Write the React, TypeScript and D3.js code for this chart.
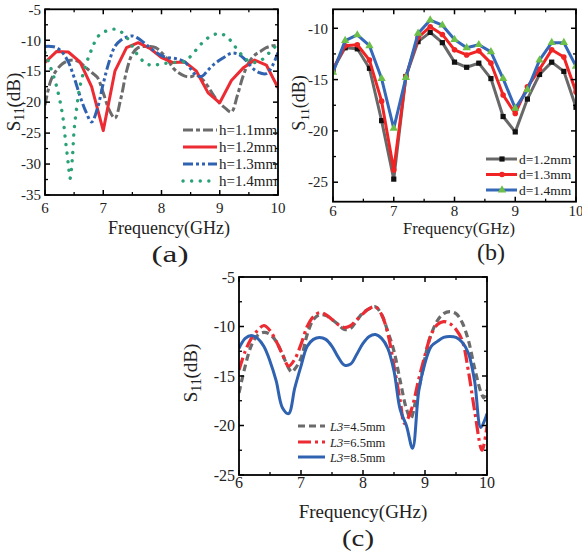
import React from "react";
import * as d3 from "d3";

const FONT = "'Liberation Serif', 'Times New Roman', serif";

// ---------- Panel (a): substrate thickness h ----------
const freqA_h11 = [6.0, 6.1, 6.2, 6.3, 6.4, 6.5, 6.6, 6.7, 6.8, 6.9, 7.0, 7.1, 7.2, 7.3, 7.4, 7.5, 7.6, 7.7, 7.8, 7.9, 8.0, 8.1, 8.2, 8.3, 8.4, 8.5, 8.6, 8.7, 8.8, 8.9, 9.0, 9.1, 9.2, 9.3, 9.4, 9.5, 9.6, 9.7, 9.8, 9.9, 10.0];
const s11A_h11 = [-20.5, -16.5, -14.8, -13.8, -13.3, -13.2, -13.6, -14.4, -15.2, -16.0, -18.5, -21.2, -22.6, -19.5, -15.0, -12.2, -11.2, -11.0, -11.0, -11.2, -12.0, -13.0, -14.5, -15.3, -15.8, -15.9, -15.6, -16.3, -17.5, -19.0, -20.2, -21.0, -21.6, -19.0, -15.8, -13.6, -12.4, -11.8, -11.2, -10.9, -10.8];

const freqA_h12 = [6.0, 6.2, 6.4, 6.6, 6.8, 7.0, 7.2, 7.4, 7.6, 7.8, 8.0, 8.2, 8.4, 8.6, 8.8, 9.0, 9.2, 9.4, 9.6, 9.8, 10.0];
const s11A_h12 = [-13.6, -11.8, -11.9, -13.5, -17.5, -24.6, -15.0, -11.2, -10.4, -11.3, -12.8, -13.6, -13.5, -15.0, -18.5, -20.1, -16.5, -14.5, -13.2, -14.0, -17.7];

const freqA_h13 = [6.0, 6.1, 6.2, 6.3, 6.4, 6.5, 6.6, 6.7, 6.8, 6.9, 7.0, 7.1, 7.2, 7.3, 7.4, 7.5, 7.6, 7.7, 7.8, 7.9, 8.0, 8.1, 8.2, 8.3, 8.4, 8.5, 8.6, 8.7, 8.8, 8.9, 9.0, 9.1, 9.2, 9.3, 9.4, 9.5, 9.6, 9.7, 9.8, 9.9, 10.0];
const s11A_h13 = [-11.0, -11.0, -11.2, -12.0, -13.5, -16.0, -19.0, -21.5, -23.2, -21.0, -17.0, -13.5, -11.0, -10.0, -9.5, -9.3, -9.7, -10.4, -11.2, -11.9, -12.5, -12.8, -12.9, -13.1, -13.5, -14.6, -15.7, -15.8, -14.8, -13.9, -13.2, -12.6, -12.1, -12.2, -12.8, -13.8, -14.8, -15.3, -15.4, -14.2, -12.0];

const freqA_h14 = [6.0, 6.1, 6.2, 6.3, 6.35, 6.4, 6.43, 6.47, 6.5, 6.55, 6.6, 6.7, 6.8, 6.9, 7.0, 7.1, 7.2, 7.3, 7.4, 7.5, 7.6, 7.7, 7.8, 7.9, 8.0, 8.2, 8.4, 8.5, 8.6, 8.7, 8.8, 8.9, 9.0, 9.1, 9.2, 9.3, 9.4, 9.5, 9.6, 9.7, 9.8, 9.9, 10.0];
const s11A_h14 = [-12.0, -14.5, -17.5, -22.0, -26.0, -30.0, -32.3, -29.0, -24.5, -20.5, -17.5, -14.0, -11.5, -9.5, -8.7, -8.4, -8.2, -8.6, -9.5, -11.0, -12.5, -13.5, -14.0, -14.0, -13.8, -13.6, -13.4, -12.6, -11.5, -10.4, -9.6, -9.1, -8.9, -9.3, -10.2, -11.5, -12.6, -13.4, -13.6, -13.3, -12.5, -11.5, -10.6];

const labelsA = ["h=1.1mm", "h=1.2mm", "h=1.3mm", "h=1.4mm"];
const yTicksA = [-35, -30, -25, -20, -15, -10, -5];

// ---------- Panel (b): parameter d ----------
const freqB = [6.0, 6.2, 6.4, 6.6, 6.8, 7.0, 7.2, 7.4, 7.6, 7.8, 8.0, 8.2, 8.4, 8.6, 8.8, 9.0, 9.2, 9.4, 9.6, 9.8, 10.0];
const s11B_d12 = [-14.0, -11.9, -12.0, -13.9, -19.0, -24.7, -14.7, -11.3, -10.4, -11.4, -13.3, -13.8, -13.4, -14.9, -18.6, -20.1, -16.9, -14.5, -13.3, -14.2, -17.7];
const s11B_d13 = [-14.0, -11.7, -11.6, -13.1, -17.1, -23.8, -14.7, -10.9, -9.85, -10.6, -12.1, -12.6, -12.2, -13.4, -16.5, -18.3, -15.7, -14.0, -12.1, -12.8, -16.2];
const s11B_d14 = [-14.3, -11.2, -10.65, -11.7, -14.9, -19.75, -14.8, -10.5, -9.2, -9.7, -11.1, -11.9, -11.6, -12.3, -14.9, -17.8, -16.0, -13.1, -11.4, -11.4, -13.7];
const labelsB = ["d=1.2mm", "d=1.3mm", "d=1.4mm"];
const yTicksB = [-25, -20, -15, -10];

// ---------- Panel (c): length L3 ----------
const freqC_45 = [6.0, 6.1, 6.2, 6.3, 6.4, 6.5, 6.6, 6.7, 6.8, 6.85, 6.9, 7.0, 7.1, 7.2, 7.3, 7.4, 7.5, 7.6, 7.7, 7.8, 7.9, 8.0, 8.1, 8.2, 8.3, 8.4, 8.5, 8.6, 8.7, 8.77, 8.85, 8.92, 9.03, 9.1, 9.2, 9.3, 9.4, 9.5, 9.6, 9.7, 9.8, 9.9, 9.95, 10.0];
const s11C_45 = [-16.7, -14.0, -11.9, -10.9, -10.6, -10.8, -11.5, -12.8, -14.2, -14.6, -14.3, -13.2, -10.8, -9.3, -8.8, -8.9, -9.3, -9.8, -10.3, -10.2, -9.4, -8.6, -8.2, -8.0, -8.8, -10.5, -12.5, -15.5, -18.3, -19.3, -17.5, -15.7, -12.3, -10.8, -9.4, -8.7, -8.5, -8.7, -9.6, -11.4, -14.2, -16.6, -17.2, -16.4];

const freqC_65 = [6.0, 6.1, 6.2, 6.3, 6.4, 6.5, 6.6, 6.7, 6.8, 6.9, 7.0, 7.1, 7.2, 7.3, 7.4, 7.5, 7.6, 7.7, 7.8, 7.9, 8.0, 8.1, 8.2, 8.3, 8.4, 8.5, 8.6, 8.67, 8.78, 8.9, 9.0, 9.1, 9.2, 9.3, 9.4, 9.5, 9.6, 9.7, 9.8, 9.92, 10.0];
const s11C_65 = [-14.4, -12.5, -11.2, -10.4, -9.9, -10.4, -11.5, -12.8, -14.0, -13.3, -11.8, -10.0, -9.0, -8.6, -8.8, -9.3, -9.8, -10.1, -9.9, -9.3, -8.7, -8.2, -8.0, -8.8, -10.7, -14.0, -17.5, -19.8, -18.4, -15.3, -12.9, -10.8, -9.8, -9.5, -9.7, -10.3, -11.4, -14.5, -18.5, -22.5, -20.1];

const freqC_85 = [6.0, 6.1, 6.2, 6.3, 6.4, 6.5, 6.6, 6.7, 6.8, 6.9, 7.0, 7.1, 7.2, 7.3, 7.4, 7.5, 7.6, 7.7, 7.8, 7.9, 8.0, 8.1, 8.2, 8.3, 8.4, 8.5, 8.6, 8.7, 8.8, 8.9, 9.0, 9.1, 9.2, 9.3, 9.4, 9.5, 9.6, 9.7, 9.8, 9.9, 10.0];
const s11C_85 = [-12.2, -11.2, -10.9, -11.2, -12.0, -13.5, -15.5, -18.2, -18.8, -16.2, -14.0, -12.0, -11.3, -11.1, -11.3, -12.0, -13.1, -13.9, -13.8, -12.8, -11.7, -11.0, -10.8, -11.2, -12.2, -14.5, -18.4, -20.0, -22.3, -16.5, -13.7, -12.0, -11.5, -11.1, -11.0, -11.1, -11.6, -12.7, -15.5, -20.2, -18.8];
const labelsC = ["4.5mm", "6.5mm", "8.5mm"];
const yTicksC = [-25, -20, -15, -10, -5];

const xTicks = [6, 7, 8, 9, 10];
const xMinor = [6.5, 7.5, 8.5, 9.5];

type Curve = {
  x: number[];
  y: number[];
  color: string;
  width: number;
  dash?: string;
  cap?: "butt" | "round";
  curve: d3.CurveFactory;
  marker?: "square" | "circle" | "triangle";
  markerColor?: string;
};

type PanelProps = {
  id: string;
  left: number;
  right: number;
  top: number;
  bottom: number;
  yDomain: [number, number];
  yTicks: number[];
  tickFont: number;
  titleFont: number;
  xTitleY: number;
  xTitleX: number;
  yTitleX: number;
  yTitleY: number;
  yTitleFont: number;
  tickLabelY: number;
  yLabelRight: number;
  tag: string;
  tagX: number;
  tagY: number;
  tagLen: number;
  curves: Curve[];
};

function Marker({ kind, cx, cy, color }: { kind: string; cx: number; cy: number; color: string }) {
  if (kind === "square") return <rect x={cx - 2.6} y={cy - 2.6} width={5.2} height={5.2} fill={color} />;
  if (kind === "circle") return <circle cx={cx} cy={cy} r={2.8} fill={color} />;
  const tri = d3.symbol(d3.symbolTriangle, 30)();
  return <path d={tri || ""} transform={`translate(${cx},${cy})`} fill={color} />;
}

function Panel(p: PanelProps) {
  const xs = d3.scaleLinear().domain([6, 10]).range([p.left, p.right]);
  const ys = d3.scaleLinear().domain(p.yDomain).range([p.bottom, p.top]);
  const yMinor = p.yTicks.slice(0, -1).map((v, i) => (v + p.yTicks[i + 1]) / 2);
  const yExtra: number[] = [];
  const step = p.yTicks[1] - p.yTicks[0];
  if (p.yTicks[p.yTicks.length - 1] + step / 2 <= p.yDomain[1]) yExtra.push(p.yTicks[p.yTicks.length - 1] + step / 2);
  if (p.yTicks[0] - step / 2 >= p.yDomain[0]) yExtra.push(p.yTicks[0] - step / 2);
  const allYMinor = yMinor.concat(yExtra);
  const maj = 5;
  const mnr = 3;

  return (
    <g>
      <defs>
        <clipPath id={`clip-${p.id}`}>
          <rect x={p.left} y={p.top} width={p.right - p.left} height={p.bottom - p.top} />
        </clipPath>
      </defs>
      <g clipPath={`url(#clip-${p.id})`}>
        {p.curves.map((c, i) => {
          const pts = c.x.map((f, k) => [f, c.y[k]] as [number, number]);
          const line = d3
            .line<[number, number]>()
            .x((d) => xs(d[0]))
            .y((d) => ys(d[1]))
            .curve(c.curve);
          return (
            <g key={i}>
              <path
                d={line(pts) || ""}
                fill="none"
                stroke={c.color}
                strokeWidth={c.width}
                strokeDasharray={c.dash}
                strokeLinecap={c.cap || "butt"}
                strokeLinejoin="round"
              />
              {c.marker &&
                pts.map((d, k) => (
                  <Marker key={k} kind={c.marker!} cx={xs(d[0])} cy={ys(d[1])} color={c.markerColor || c.color} />
                ))}
            </g>
          );
        })}
      </g>
      {/* frame */}
      <rect x={p.left} y={p.top} width={p.right - p.left} height={p.bottom - p.top} fill="none" stroke="#000" strokeWidth={1.8} />
      {/* x ticks, bottom and top, pointing inward */}
      {xTicks.map((v) => (
        <g key={`xt${v}`}>
          <line x1={xs(v)} x2={xs(v)} y1={p.bottom} y2={p.bottom - maj} stroke="#000" strokeWidth={1.5} />
          <line x1={xs(v)} x2={xs(v)} y1={p.top} y2={p.top + maj} stroke="#000" strokeWidth={1.5} />
          <text x={xs(v)} y={p.tickLabelY} textAnchor="middle" fontFamily={FONT} fontSize={p.tickFont} fill="#222">
            {v}
          </text>
        </g>
      ))}
      {xMinor.map((v) => (
        <g key={`xm${v}`}>
          <line x1={xs(v)} x2={xs(v)} y1={p.bottom} y2={p.bottom - mnr} stroke="#000" strokeWidth={1.3} />
          <line x1={xs(v)} x2={xs(v)} y1={p.top} y2={p.top + mnr} stroke="#000" strokeWidth={1.3} />
        </g>
      ))}
      {p.yTicks.map((v) => (
        <g key={`yt${v}`}>
          <line x1={p.left} x2={p.left + maj} y1={ys(v)} y2={ys(v)} stroke="#000" strokeWidth={1.5} />
          <line x1={p.right} x2={p.right - maj} y1={ys(v)} y2={ys(v)} stroke="#000" strokeWidth={1.5} />
          <text x={p.yLabelRight} y={ys(v)} dy="0.35em" textAnchor="end" fontFamily={FONT} fontSize={p.tickFont} fill="#222">
            {v}
          </text>
        </g>
      ))}
      {allYMinor.map((v) => (
        <g key={`ym${v}`}>
          <line x1={p.left} x2={p.left + mnr} y1={ys(v)} y2={ys(v)} stroke="#000" strokeWidth={1.3} />
          <line x1={p.right} x2={p.right - mnr} y1={ys(v)} y2={ys(v)} stroke="#000" strokeWidth={1.3} />
        </g>
      ))}
      <text x={p.xTitleX} y={p.xTitleY} textAnchor="middle" fontFamily={FONT} fontSize={p.titleFont} fill="#222">
        Frequency(GHz)
      </text>
      <text
        transform={`translate(${p.yTitleX},${p.yTitleY}) rotate(-90)`}
        textAnchor="middle"
        fontFamily={FONT}
        fontSize={p.yTitleFont}
        fill="#222"
      >
        S
        <tspan fontSize={p.yTitleFont * 0.72} dy={4}>
          11
        </tspan>
        <tspan dy={-4}>(dB)</tspan>
      </text>
      <text
        x={p.tagX}
        y={p.tagY}
        textAnchor="middle"
        fontFamily={FONT}
        fontSize={23}
        fill="#222"
        textLength={p.tagLen}
        lengthAdjust="spacingAndGlyphs"
      >
        {p.tag}
      </text>
    </g>
  );
}

const GRAY = "#6b6b6b";
const RED = "#ec2b33";
const BLUE = "#2f62b0";
const GREEN = "#2aa276";

export default function App() {
  const curvesA: Curve[] = [
    { x: freqA_h11, y: s11A_h11, color: GRAY, width: 3, dash: "10,3,4,3", curve: d3.curveCatmullRom },
    { x: freqA_h12, y: s11A_h12, color: RED, width: 3, curve: d3.curveLinear },
    { x: freqA_h13, y: s11A_h13, color: BLUE, width: 3, dash: "10,3,3,3,3,3", curve: d3.curveCatmullRom },
    { x: freqA_h14, y: s11A_h14, color: GREEN, width: 3.4, dash: "0.1,8.5", cap: "round", curve: d3.curveCatmullRom },
  ];
  const curvesB: Curve[] = [
    { x: freqB, y: s11B_d12, color: "#686868", width: 3, curve: d3.curveLinear, marker: "square", markerColor: "#111" },
    { x: freqB, y: s11B_d13, color: "#f02424", width: 3, curve: d3.curveLinear, marker: "circle", markerColor: "#f02424" },
    { x: freqB, y: s11B_d14, color: "#3568b8", width: 3, curve: d3.curveLinear, marker: "triangle", markerColor: "#6cc04a" },
  ];
  const curvesC: Curve[] = [
    { x: freqC_45, y: s11C_45, color: GRAY, width: 3.2, dash: "7,4", curve: d3.curveCatmullRom },
    { x: freqC_65, y: s11C_65, color: RED, width: 3.2, dash: "13,4,3,4", curve: d3.curveCatmullRom },
    { x: freqC_85, y: s11C_85, color: BLUE, width: 3, curve: d3.curveCatmullRom },
  ];

  const legA = [
    { dash: "10,3,4,3", color: GRAY, cap: "butt", w: 3 },
    { dash: undefined, color: RED, cap: "butt", w: 3 },
    { dash: "10,3,3,3,3,3", color: BLUE, cap: "butt", w: 3 },
    { dash: "0.1,8.5", color: GREEN, cap: "round", w: 3.4 },
  ];
  const legARows = [130, 147, 164, 181];
  const legBRows = [159, 174.5, 190];
  const legBMarkers = [
    { kind: "square", color: "#111", line: "#686868" },
    { kind: "circle", color: "#f02424", line: "#f02424" },
    { kind: "triangle", color: "#6cc04a", line: "#3568b8" },
  ];
  const legCRows = [426, 442, 457];
  const legC = [
    { dash: "7,4", color: GRAY },
    { dash: "13,4,3,4", color: RED },
    { dash: undefined, color: BLUE },
  ];

  return (
    <svg width={582} height={554} style={{ position: "absolute", left: 0, top: 0, background: "#fff" }}>
      <rect width={582} height={554} fill="#fff" />
      <Panel
        id="a"
        left={45}
        right={278}
        top={9.3}
        bottom={195}
        yDomain={[-35, -5]}
        yTicks={yTicksA}
        tickFont={15}
        titleFont={18}
        xTitleX={169}
        xTitleY={234}
        yTitleX={20}
        yTitleY={102}
        yTitleFont={19}
        tickLabelY={213}
        yLabelRight={41}
        tag="(a)"
        tagX={170}
        tagY={262}
        tagLen={37}
        curves={curvesA}
      />
      <Panel
        id="b"
        left={333}
        right={576}
        top={9.3}
        bottom={201.7}
        yDomain={[-26.9, -8.15]}
        yTicks={yTicksB}
        tickFont={15}
        titleFont={16.5}
        xTitleX={459}
        xTitleY={234}
        yTitleX={305}
        yTitleY={103}
        yTitleFont={18}
        tickLabelY={216}
        yLabelRight={328}
        tag="(b)"
        tagX={491}
        tagY={260}
        tagLen={28}
        curves={curvesB}
      />
      <Panel
        id="c"
        left={239}
        right={487}
        top={277}
        bottom={475}
        yDomain={[-25, -5]}
        yTicks={yTicksC}
        tickFont={16}
        titleFont={19}
        xTitleX={363}
        xTitleY={518}
        yTitleX={197}
        yTitleY={373}
        yTitleFont={19}
        tickLabelY={488}
        yLabelRight={235}
        tag="(c)"
        tagX={358}
        tagY={546}
        tagLen={32}
        curves={curvesC}
      />

      {/* legend (a) */}
      {labelsA.map((t, i) => (
        <g key={t}>
          <line x1={183} x2={217} y1={legARows[i]} y2={legARows[i]} stroke={legA[i].color} strokeWidth={legA[i].w} strokeDasharray={legA[i].dash} strokeLinecap={legA[i].cap as any} />
          <text x={219} y={legARows[i] + 5} fontFamily={FONT} fontSize={15} fill="#222">
            {t}
          </text>
        </g>
      ))}

      {/* legend (b) */}
      {labelsB.map((t, i) => (
        <g key={t}>
          <line x1={486} x2={517} y1={legBRows[i]} y2={legBRows[i]} stroke={legBMarkers[i].line} strokeWidth={3} />
          <Marker kind={legBMarkers[i].kind} cx={502} cy={legBRows[i]} color={legBMarkers[i].color} />
          <text x={519} y={legBRows[i] + 4.5} fontFamily={FONT} fontSize={13.5} fill="#222">
            {t}
          </text>
        </g>
      ))}

      {/* legend (c) */}
      {labelsC.map((t, i) => (
        <g key={t}>
          <line x1={298} x2={325} y1={legCRows[i]} y2={legCRows[i]} stroke={legC[i].color} strokeWidth={3} strokeDasharray={legC[i].dash} />
          <text x={330} y={legCRows[i] + 4.5} fontFamily={FONT} fontSize={12.5} fill="#222">
            <tspan fontStyle="italic">L3</tspan>={t}
          </text>
        </g>
      ))}
    </svg>
  );
}
